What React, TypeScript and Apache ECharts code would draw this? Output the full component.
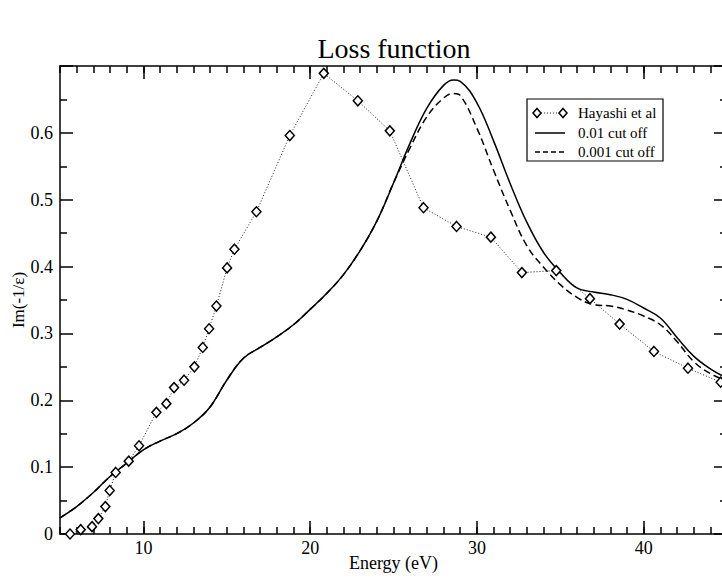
import React, { useEffect, useRef } from "react";
import * as echarts from "echarts";

const hayashiEnergy = [5.6, 6.24, 6.92, 7.3, 7.72, 7.98, 8.34, 9.12, 9.74, 10.78, 11.38, 11.84, 12.44, 13.06, 13.56, 13.94, 14.38, 15.02, 15.46, 16.78, 18.78, 20.82, 22.86, 24.78, 26.8, 28.78, 30.84, 32.7, 34.76, 36.78, 38.56, 40.62, 42.66, 44.62];
const hayashiLoss = [0.0, 0.0065, 0.011, 0.023, 0.041, 0.065, 0.092, 0.109, 0.132, 0.182, 0.195, 0.219, 0.23, 0.25, 0.279, 0.307, 0.341, 0.398, 0.426, 0.482, 0.596, 0.689, 0.648, 0.603, 0.488, 0.46, 0.444, 0.391, 0.394, 0.352, 0.314, 0.273, 0.248, 0.227];

const calcEnergy = [5, 6, 7, 8, 9, 10, 11, 12, 13, 14, 15, 16, 17, 18, 19, 20, 21, 22, 23, 24, 25, 26, 27, 28, 28.6, 29, 30, 31, 32, 33, 34, 35, 36, 37, 38, 39, 40, 41, 42, 43, 44, 45];
const loss001 = [0.024, 0.041, 0.062, 0.086, 0.106, 0.126, 0.139, 0.15, 0.166, 0.19, 0.23, 0.263, 0.279, 0.295, 0.313, 0.336, 0.36, 0.388, 0.424, 0.468, 0.525, 0.585, 0.637, 0.671, 0.679, 0.677, 0.645, 0.588, 0.524, 0.466, 0.421, 0.391, 0.368, 0.362, 0.358, 0.351, 0.338, 0.323, 0.294, 0.266, 0.247, 0.233];
const loss0001 = [0.024, 0.041, 0.062, 0.086, 0.106, 0.126, 0.139, 0.15, 0.166, 0.19, 0.23, 0.263, 0.279, 0.295, 0.313, 0.336, 0.36, 0.388, 0.424, 0.468, 0.525, 0.578, 0.624, 0.652, 0.659, 0.656, 0.607, 0.544, 0.484, 0.431, 0.399, 0.373, 0.354, 0.343, 0.341, 0.335, 0.326, 0.313, 0.288, 0.258, 0.24, 0.229];

const majorXTicks = [10, 20, 30, 40];
const seriesNames = ["Hayashi et al", "0.01 cut off", "0.001 cut off"];

const FONT = "'Liberation Serif', 'DejaVu Serif', serif";

export default function App() {
  const ref = useRef<HTMLDivElement>(null);
  useEffect(() => {
    if (!ref.current) return;
    const chart = echarts.init(ref.current, null, { renderer: "svg" });
    const lineStyle = { color: "#000", width: 1.5 };
    const baseX = { type: "value", min: 5, max: 45, splitLine: { show: false } };
    const minorX = (position: string) => ({
      ...baseX,
      position,
      interval: 1,
      axisLine: { show: true, onZero: false, lineStyle },
      axisTick: { show: true, inside: true, length: 7, lineStyle },
      axisLabel: { show: false },
    });
    const majorX = (position: string, labels: boolean) => ({
      ...baseX,
      position,
      axisLine: { show: false, onZero: false },
      axisTick: { show: true, inside: true, length: 13, customValues: majorXTicks, lineStyle },
      axisLabel: {
        show: labels,
        customValues: majorXTicks,
        fontFamily: FONT,
        fontSize: 18,
        color: "#000",
        margin: 5,
      },
      ...(labels
        ? {
            name: "Energy (eV)",
            nameLocation: "middle",
            nameGap: 20,
            nameMoveOverlap: false,
            nameTextStyle: { fontFamily: FONT, fontSize: 18, color: "#000" },
          }
        : {}),
    });
    const yAx = (position: string, labels: boolean) => ({
      type: "value",
      min: 0,
      max: 0.7,
      interval: 0.1,
      position,
      splitLine: { show: false },
      axisLine: { show: true, onZero: false, lineStyle },
      axisTick: { show: true, inside: true, length: 13, lineStyle },
      minorTick: { show: true, splitNumber: 2, length: 7, lineStyle },
      axisLabel: {
        show: labels,
        fontFamily: FONT,
        fontSize: 18,
        color: "#000",
        margin: 7,
        formatter: (v: number) => (v > 0.65 ? "" : String(Math.round(v * 10) / 10)),
      },
      ...(labels
        ? {
            name: "Im(-1/ε)",
            nameLocation: "middle",
            nameGap: 33,
            nameRotate: 90,
            nameMoveOverlap: false,
            nameTextStyle: { fontFamily: FONT, fontSize: 17, color: "#000" },
          }
        : {}),
    });

    const lx0 = 535;
    const lx1 = 565;
    const tx = 578;
    const rows = [113, 133, 152];
    const diamond = (cx: number, cy: number) => ({
      type: "polygon",
      shape: { points: [[cx, cy - 4.5], [cx + 4, cy], [cx, cy + 4.5], [cx - 4, cy]] },
      style: { fill: "#fff", stroke: "#000", lineWidth: 1.5 },
      z: 102,
    });
    const legendText = (i: number) => ({
      type: "text",
      x: tx,
      y: rows[i],
      style: { text: seriesNames[i], fill: "#000", font: `15px ${FONT}`, textVerticalAlign: "middle" },
      z: 102,
    });

    chart.setOption({
      animation: false,
      backgroundColor: "#fff",
      title: {
        text: "Loss function",
        left: 389,
        top: 29,
        textAlign: "center",
        textStyle: { fontFamily: FONT, fontSize: 28, fontWeight: "normal", color: "#000" },
      },
      grid: { left: 60, right: -5, top: 66, bottom: 44, containLabel: false, outerBoundsMode: "none" },
      xAxis: [minorX("bottom"), majorX("bottom", true), minorX("top"), majorX("top", false)],
      yAxis: [yAx("left", true), yAx("right", false)],
      series: [
        {
          name: seriesNames[1],
          type: "line",
          xAxisIndex: 0,
          yAxisIndex: 0,
          smooth: 0.4,
          showSymbol: false,
          symbol: "none",
          lineStyle: { color: "#000", width: 1.5 },
          data: calcEnergy.map((e, i) => [e, loss001[i]]),
        },
        {
          name: seriesNames[2],
          type: "line",
          xAxisIndex: 0,
          yAxisIndex: 0,
          smooth: 0.4,
          showSymbol: false,
          symbol: "none",
          lineStyle: { color: "#000", width: 1.5, type: [7, 4] },
          data: calcEnergy.map((e, i) => [e, loss0001[i]]),
        },
        {
          name: seriesNames[0],
          type: "line",
          xAxisIndex: 0,
          yAxisIndex: 0,
          symbol: "diamond",
          symbolSize: [9, 10],
          itemStyle: { color: "#fff", borderColor: "#000", borderWidth: 1.5 },
          lineStyle: { color: "#222", width: 1, type: [1, 2] },
          z: 5,
          data: hayashiEnergy.map((e, i) => [e, hayashiLoss[i]]),
        },
      ],
      graphic: [
        {
          type: "rect",
          shape: { x: 527, y: 99, width: 136, height: 62 },
          style: { fill: "#fff", stroke: "#000", lineWidth: 1.2 },
          z: 100,
        },
        {
          type: "line",
          shape: { x1: lx0, y1: rows[0], x2: lx1, y2: rows[0] },
          style: { stroke: "#222", lineWidth: 1, lineDash: [1, 2] },
          z: 101,
        },
        diamond(lx0 + 2, rows[0]),
        diamond(lx1 - 2, rows[0]),
        {
          type: "line",
          shape: { x1: lx0, y1: rows[1], x2: lx1, y2: rows[1] },
          style: { stroke: "#000", lineWidth: 1.5 },
          z: 101,
        },
        {
          type: "line",
          shape: { x1: lx0, y1: rows[2], x2: lx1, y2: rows[2] },
          style: { stroke: "#000", lineWidth: 1.5, lineDash: [5, 3] },
          z: 101,
        },
        legendText(0),
        legendText(1),
        legendText(2),
      ],
    });
    return () => chart.dispose();
  }, []);
  return <div ref={ref} style={{ position: "fixed", left: 0, top: 0, width: 722, height: 578 }} />;
}
